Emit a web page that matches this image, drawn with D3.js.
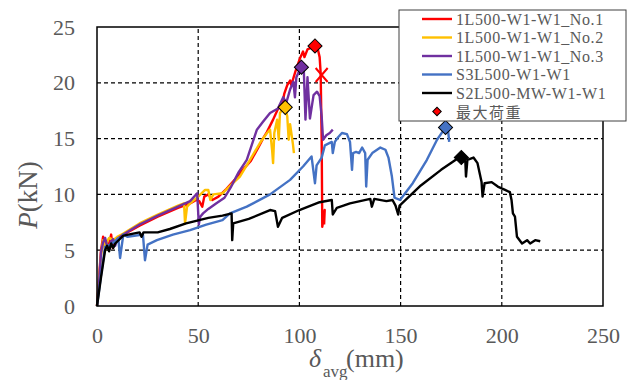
<!DOCTYPE html>
<html><head><meta charset="utf-8">
<script src="https://cdn.jsdelivr.net/npm/d3@7"></script>
<style>body{margin:0;background:#fff}svg{display:block}text{font-family:"Liberation Serif","Times New Roman",serif}</style>
</head><body>
<svg id="c" width="629" height="380"></svg>
<script>
const seriesNames = ["1L500-W1-W1_No.1","1L500-W1-W1_No.2","1L500-W1-W1_No.3","S3L500-W1-W1","S2L500-MW-W1-W1"];
const seriesColors = ["#FF0000","#FFC000","#7030A0","#4472C4","#000000"];
const xTicks = [0,50,100,150,200,250];
const yTicks = [0,5,10,15,20,25];

const red = [[0,0],[1,2.5],[2,5],[3,6.2],[4,5.8],[5,5.3],[6,5.6],[7,6.4],[7.8,5.2],[9,5.8],[10,6.0],[13,6.4],[21,7.2],[30,8.0],[40,8.8],[46,9.2],[49,9.5],[50.5,9.4],[52,8.9],[53,9.8],[55,10.0],[57,9.5],[60,9.8],[64,10.5],[68,11.3],[72,12.2],[76,13.0],[80,14.3],[82,15.0],[84,15.6],[87,16.7],[89,17.5],[90.4,18.0],[91,17.6],[92.5,19.0],[94,19.8],[95.4,20.2],[96,19.8],[98,21.0],[100.3,22.2],[101.8,22.8],[102.5,22.3],[104,23.0],[107.7,23.3],[109,23.1],[110,22.3],[110.5,20.9],[111,15],[111.3,7.1],[112.5,8.6],[112.2,7.3]];
const yellow = [[0,0],[1,2.2],[2,4.5],[3,5.9],[4,5.0],[5,5.8],[6,6.1],[8,5.9],[10,6.2],[13,6.5],[21,7.4],[30,8.2],[40,9.0],[43,9.2],[43.5,7.4],[44.5,8.9],[46,9.2],[50,9.8],[53.4,10.4],[55,10.4],[56,9.5],[57.5,10.0],[62,10.1],[66,10.8],[70.6,11.6],[75.6,13.1],[80.5,14.6],[84,15.5],[85.5,15.8],[86.5,14.0],[87,12.8],[87.6,15.5],[89,16.7],[89.8,14.9],[90.4,17.3],[92,17.7],[93,17.8],[94,17.0],[94.7,14.9],[95.4,16.3],[96.8,14.5],[97.3,13.7]];
const purple = [[0,0],[1,2],[2,4.8],[3,5.7],[4,6.1],[5,5.4],[6,5.1],[7,5.8],[8,6.0],[9,5.4],[10,6.0],[13,6.4],[21,7.3],[30,8.1],[40,8.9],[46,9.4],[49.5,10.1],[50.3,7.3],[51,8.0],[52.4,8.3],[55,8.7],[59,9.2],[63,9.7],[66,10.6],[70,12.0],[74,13.1],[79,15.8],[82,16.5],[85.5,17.3],[89.4,17.7],[92,18.7],[93.5,18.2],[95.4,19.4],[97,20.1],[97.8,18.7],[98.5,20.5],[100,21.1],[101,21.4],[102.2,21.0],[103,16.7],[104,20.5],[105.2,16.8],[107,18.9],[108.7,19.2],[110,18.8],[111,17],[111.7,14.9],[113.3,15.3],[115,15.5],[116.5,15.8]];
const blue = [[0,0],[2,2.8],[4,5.3],[6.5,5.5],[9,5.8],[10.5,6.1],[11.4,4.3],[13,6.4],[15,6.2],[22.7,6.4],[23.7,4.1],[25,5.5],[29.6,5.9],[37.5,6.4],[46,6.8],[54,7.3],[62,7.7],[65.7,8.3],[74,8.9],[85.5,10.0],[95.4,11.3],[101.8,12.5],[106,13.4],[107.7,11.0],[108.5,12.6],[111,13.3],[112.6,14.4],[116,14.7],[116.5,13.7],[117.5,14.7],[119,15.1],[121,15.5],[123.5,15.4],[125,14.7],[126,12.2],[126.5,13.7],[128,13.8],[129.5,13.7],[131,14.2],[132.5,13.7],[133,10.7],[133.7,13.1],[136,13.7],[140,14.2],[142.5,14.0],[144,13.3],[145.7,11.6],[147,9.7],[149.7,9.5],[156,11.0],[163,13.1],[168,14.9],[172.2,16.0],[173.5,15.7],[174,14.7]];
const black = [[0,0],[2,2.6],[4,5.0],[5,5.4],[6,4.9],[7,5.6],[8,5.2],[9,5.6],[13,6.3],[21,6.6],[22,6.2],[23,6.6],[30,6.6],[36,6.9],[44,7.4],[55,7.9],[62,8.1],[66.5,8.3],[66.8,5.9],[67.3,7.4],[75,7.8],[85.5,8.6],[88,8.5],[89.4,7.1],[91.5,7.9],[100,8.6],[110,9.3],[116,9.5],[116.5,8.2],[118.5,8.8],[125,9.2],[135,9.6],[135.8,8.9],[137,9.6],[143,9.4],[146,9.5],[147.5,9.0],[148.8,8.2],[149.5,9.0],[160,10.8],[170,12.2],[178,13.2],[180,13.3],[182,12.9],[182.3,11.6],[183,13.1],[186,13.3],[188,12.8],[190,11.1],[190.5,9.8],[191.5,11.0],[195,11.1],[198,10.7],[201.6,10.4],[204,10.2],[204.8,9.5],[205.5,8.3],[206.5,8.0],[207.5,6.2],[210,5.6],[212.5,5.9],[214,5.6],[216.5,5.9],[219,5.8]];
const seriesData = [red, yellow, purple, blue, black];
const peakPoints = [[107.7,23.3],[93,17.8],[101,21.4],[172.2,16.0],[180,13.3]];
const breakPoint = [111,20.7];
const peakLabel = "最大荷重";

const svg = d3.select("#c");
const x = d3.scaleLinear().domain([0,250]).range([97,603]);
const y = d3.scaleLinear().domain([0,25]).range([306,27]);
const grey = "#595959";

// grid
svg.append("g").selectAll("line").data(xTicks.filter(d=>d>0&&d<250)).join("line")
  .attr("x1",d=>x(d)).attr("x2",d=>x(d)).attr("y1",y(0)).attr("y2",y(25))
  .attr("stroke","#000").attr("stroke-width",1.2).attr("stroke-dasharray","4,3");
svg.append("g").selectAll("line").data(yTicks.filter(d=>d>0&&d<25)).join("line")
  .attr("x1",x(0)).attr("x2",x(250)).attr("y1",d=>y(d)).attr("y2",d=>y(d))
  .attr("stroke","#000").attr("stroke-width",1.2).attr("stroke-dasharray","4,3");

// axes (labels only)
const xAxis = svg.append("g").attr("transform",`translate(0,${y(0)})`)
  .call(d3.axisBottom(x).tickValues(xTicks).tickSize(0).tickPadding(0));
xAxis.select(".domain").remove();
xAxis.selectAll("text").attr("fill",grey).attr("font-size",22).attr("dy",null).attr("y",37)
  .style("font-family","Liberation Serif");
const yAxis = svg.append("g").attr("transform",`translate(${x(0)},0)`)
  .call(d3.axisLeft(y).tickValues(yTicks).tickSize(0).tickPadding(22));
yAxis.select(".domain").remove();
yAxis.selectAll("text").attr("fill",grey).attr("font-size",22).style("font-family","Liberation Serif");

// lines
const line = d3.line().x(d=>x(d[0])).y(d=>y(d[1]));
svg.append("g").selectAll("path").data(seriesData).join("path")
  .attr("d",line).attr("fill","none").attr("stroke",(d,i)=>seriesColors[i])
  .attr("stroke-width",2.4).attr("stroke-linejoin","round");

// frame
svg.append("rect").attr("x",x(0)).attr("y",y(25)).attr("width",x(250)-x(0)).attr("height",y(0)-y(25))
  .attr("fill","none").attr("stroke","#000").attr("stroke-width",1.5);

// peak markers
const diamond = d3.symbol().type(d3.symbolSquare).size(100);
svg.append("g").selectAll("path").data(peakPoints).join("path")
  .attr("d",diamond).attr("transform",d=>`translate(${x(d[0])},${y(d[1])}) rotate(45)`)
  .attr("fill",(d,i)=>seriesColors[i]).attr("stroke","#000").attr("stroke-width",1);
// break marker
svg.append("path").attr("d","M-6,-7L6,7M6,-7L-6,7")
  .attr("transform",`translate(${x(breakPoint[0])},${y(breakPoint[1])})`)
  .attr("stroke","#FF0000").attr("stroke-width",2).attr("fill","none");

// legend
const lg = svg.append("g");
lg.append("rect").attr("x",399).attr("y",10).attr("width",227).attr("height",111)
  .attr("fill","#fff").attr("stroke","#404040").attr("stroke-width",1);
const rowY = i=>19+i*18.5;
seriesNames.forEach((n,i)=>{
  lg.append("line").attr("x1",422).attr("x2",452).attr("y1",rowY(i)).attr("y2",rowY(i))
    .attr("stroke",seriesColors[i]).attr("stroke-width",2.4);
  lg.append("text").attr("x",456).attr("y",rowY(i)).attr("dy","0.35em")
    .attr("font-size",16).attr("letter-spacing",0.6).attr("fill",grey).text(n);
});
lg.append("path").attr("d",d3.symbol().type(d3.symbolSquare).size(36))
  .attr("transform",`translate(437,${rowY(5)}) rotate(45)`)
  .attr("fill","#FF0000").attr("stroke","#000").attr("stroke-width",1);
lg.append("text").attr("x",456).attr("y",rowY(5)+1).attr("dy","0.35em")
  .attr("font-size",15).attr("letter-spacing",1.5).attr("fill",grey)
  .style("font-family","'Liberation Serif','Noto Sans CJK JP',serif").text(peakLabel);

// axis titles
const dTxt = svg.append("text").attr("x",321).attr("y",367).attr("text-anchor","end")
  .attr("fill",grey).attr("font-size",26).attr("font-style","italic").text("δ");
svg.append("text").attr("x",323).attr("y",377).attr("fill",grey).attr("font-size",17).text("avg");
svg.append("text").attr("x",346).attr("y",367).attr("fill",grey).attr("font-size",26).text("(mm)");
const yt = svg.append("text").attr("transform","translate(37,195) rotate(-90)").attr("text-anchor","middle")
  .attr("fill",grey).attr("font-size",27);
yt.append("tspan").attr("font-style","italic").text("P");
yt.append("tspan").text("(kN)");
</script>
</body></html>
